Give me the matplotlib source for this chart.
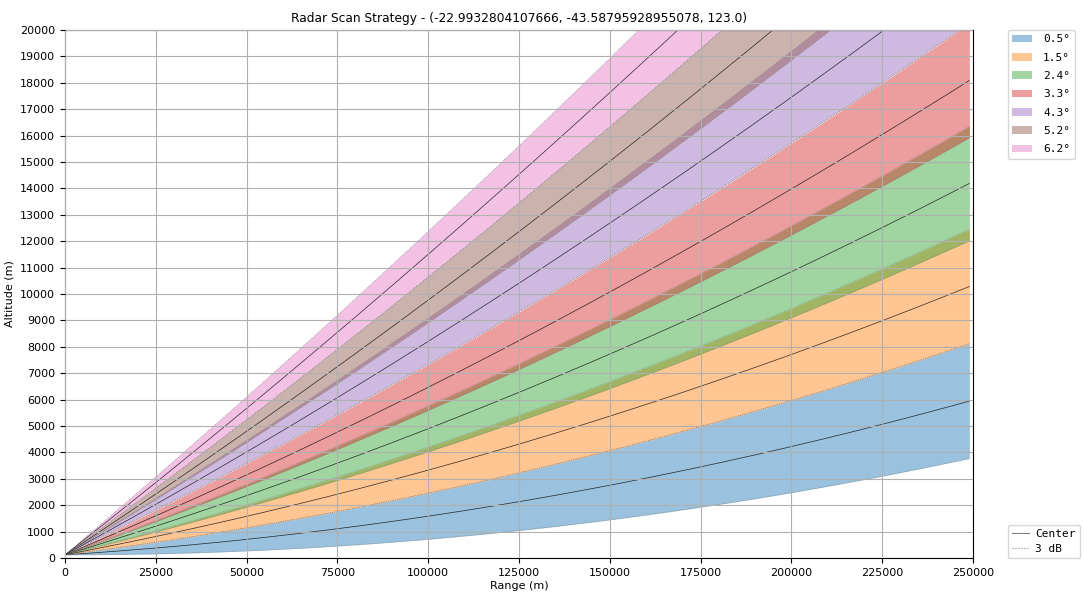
import numpy as np
import matplotlib.pyplot as plt
from matplotlib.lines import Line2D

# radar site (lat, lon, altitude in m) from the title
RADAR_LAT = -22.9932804107666
RADAR_LON = -43.58795928955078
RADAR_ALT = 123.0

ELEVATIONS = [0.5, 1.5, 2.4, 3.3, 4.3, 5.2, 6.2]  # degrees
BEAMWIDTH = 1.0                                   # degrees (3 dB)
COLORS = ["#1f77b4", "#ff7f0e", "#2ca02c", "#d62728", "#9467bd", "#8c564b", "#e377c2"]

X_TICKS = [0, 25000, 50000, 75000, 100000, 125000, 150000, 175000, 200000, 225000, 250000]
Y_TICKS = list(range(0, 20001, 1000))

EARTH_RADIUS = 6371000.0
KE = 4.0 / 3.0


def beam_height(rng, elev_deg):
    # standard 4/3 earth-radius beam propagation
    ae = KE * EARTH_RADIUS
    th = np.deg2rad(elev_deg)
    return np.sqrt(rng ** 2 + ae ** 2 + 2 * rng * ae * np.sin(th)) - ae + RADAR_ALT


rng = np.arange(0, 250000, 1000.0)

fig = plt.figure(figsize=(10.84, 5.94), dpi=100)
ax = fig.add_axes([0.06, 0.0606, 0.8376, 0.8889])

handles = []
for elev, col in zip(ELEVATIONS, COLORS):
    lo = beam_height(rng, elev - BEAMWIDTH / 2)
    mid = beam_height(rng, elev)
    hi = beam_height(rng, elev + BEAMWIDTH / 2)
    h = ax.fill_between(rng, lo, hi, color=col, alpha=0.45, linewidth=0, label=f"{elev}°")
    handles.append(h)
    ax.plot(rng, mid, color="black", lw=0.5, alpha=0.8)
    ax.plot(rng, lo, color="gray", lw=0.5, ls=":")
    ax.plot(rng, hi, color="gray", lw=0.5, ls=":")

ax.set_xlim(0, 250000)
ax.set_ylim(0, 20000)
ax.set_xticks(X_TICKS)
ax.set_yticks(Y_TICKS)
ax.tick_params(labelsize=8)
ax.grid(True, color="#b0b0b0", lw=0.8)
ax.set_axisbelow(False)
ax.set_xlabel("Range (m)", fontsize=8, labelpad=2)
ax.set_ylabel("Altitude (m)", fontsize=8)
ax.set_title(f"Radar Scan Strategy - ({RADAR_LAT}, {RADAR_LON}, {RADAR_ALT})", fontsize=8.8)

mono = {"family": "DejaVu Sans Mono", "size": 8}
leg1 = ax.legend(handles=handles, loc="upper left", bbox_to_anchor=(1.038, 1.0),
                 borderaxespad=0, prop=mono, labelspacing=0.75,
                 handlelength=1.8, handletextpad=1.0)
ax.add_artist(leg1)
line_handles = [Line2D([], [], color="gray", lw=0.8, ls="-", label="Center"),
                Line2D([], [], color="gray", lw=0.8, ls=":", label="3 dB")]
ax.legend(handles=line_handles, loc="lower left", bbox_to_anchor=(1.038, 0.0),
          borderaxespad=0, prop=mono, handlelength=1.5, handletextpad=0.6,
          labelspacing=0.4)

fig.savefig("out.png", dpi=100)
